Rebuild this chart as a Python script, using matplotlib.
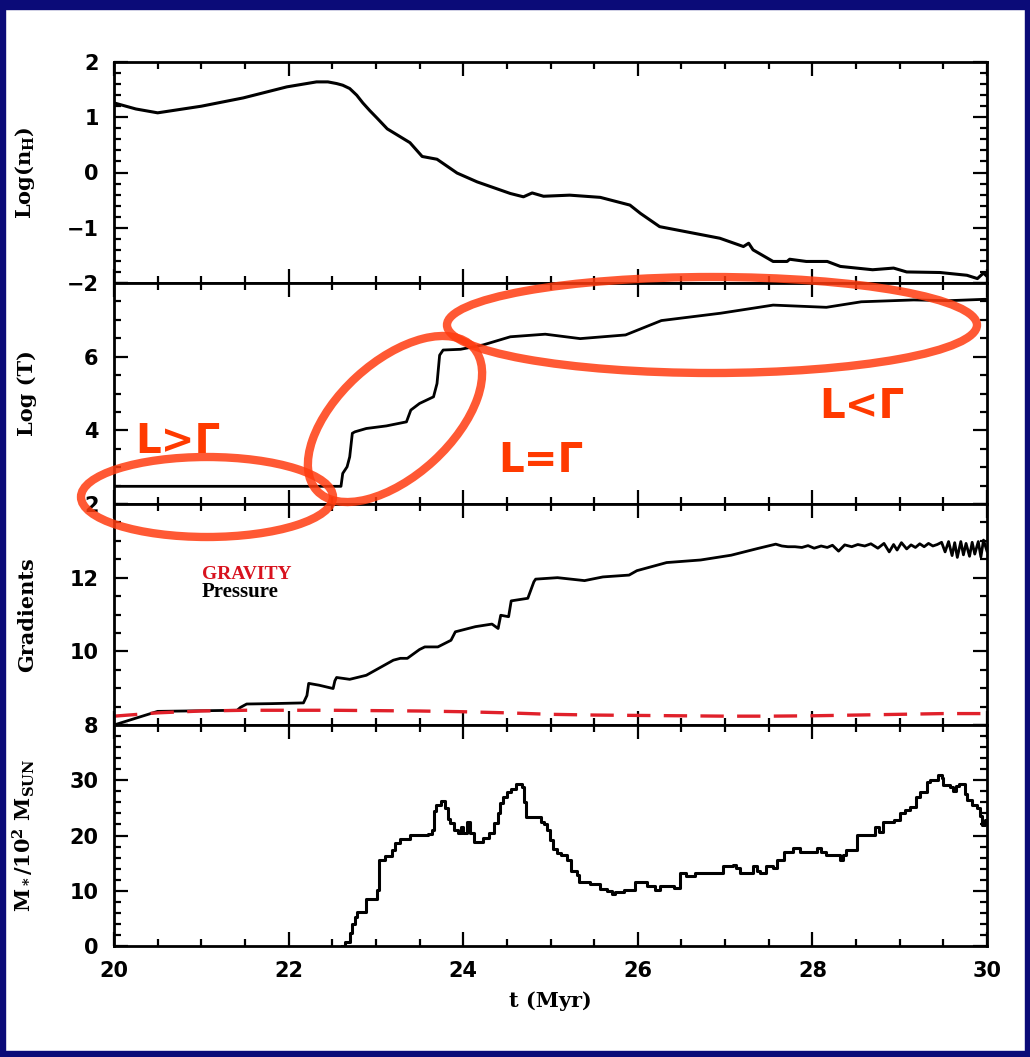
import matplotlib
matplotlib.use("Agg")
import matplotlib.pyplot as plt
from matplotlib.patches import Ellipse, Rectangle
from matplotlib.ticker import MultipleLocator

plt.rcParams['font.family'] = ['DejaVu Sans']
plt.rcParams['mathtext.fontset'] = 'dejavuserif'
plt.rcParams['mathtext.default'] = 'bf'

# --- data ---
t_nh = [20.0, 20.25, 20.5, 21.0, 21.48, 21.98, 22.32, 22.45, 22.55, 22.62, 22.70, 22.78,
        22.85, 22.93, 23.01, 23.13, 23.39, 23.53, 23.70, 23.93, 24.16, 24.54, 24.69,
        24.79, 24.92, 25.22, 25.57, 25.91, 26.03, 26.25, 26.48, 26.94, 27.21, 27.27,
        27.32, 27.55, 27.71, 27.74, 27.93, 28.17, 28.32, 28.69, 28.93, 29.08, 29.46,
        29.77, 29.89, 29.96, 30.0]
log_nh = [1.26, 1.15, 1.08, 1.20, 1.35, 1.55, 1.64, 1.64, 1.61, 1.58, 1.52, 1.40,
          1.26, 1.12, 0.99, 0.79, 0.54, 0.29, 0.24, -0.01, -0.17, -0.38, -0.44,
          -0.37, -0.43, -0.41, -0.45, -0.59, -0.74, -0.98, -1.05, -1.19, -1.34, -1.28,
          -1.40, -1.61, -1.61, -1.57, -1.61, -1.61, -1.70, -1.76, -1.73, -1.80, -1.81,
          -1.86, -1.92, -1.82, -1.88]

t_T = [20.0, 22.60, 22.62, 22.67, 22.70, 22.73, 22.76, 22.89, 23.12, 23.35, 23.40, 23.50,
       23.66, 23.70, 23.73, 23.77, 23.97, 24.23, 24.54, 24.94, 25.34, 25.86, 26.27,
       26.95, 27.55, 28.16, 28.56, 29.16, 29.56, 30.0]
log_T = [2.48, 2.48, 2.83, 3.01, 3.28, 3.92, 3.96, 4.05, 4.12, 4.23, 4.55, 4.73,
         4.91, 5.27, 6.04, 6.18, 6.20, 6.32, 6.54, 6.61, 6.49, 6.59, 6.98,
         7.18, 7.40, 7.34, 7.49, 7.54, 7.52, 7.56]

t_press = [20.0, 20.5, 21.41, 21.45, 21.52, 21.8, 22.17, 22.21, 22.23, 22.35, 22.51, 22.53,
           22.55, 22.70, 22.89, 23.20, 23.28, 23.36, 23.50, 23.56, 23.71, 23.86, 23.91,
           24.14, 24.33, 24.40, 24.43, 24.52, 24.55, 24.74, 24.81, 24.83, 25.08, 25.39,
           25.60, 25.90, 25.99, 26.33, 26.72, 27.07, 27.37,
           27.58, 27.65, 27.72, 27.80, 27.88, 27.95, 28.02, 28.10, 28.17, 28.23, 28.30,
           28.37, 28.45, 28.52, 28.60, 28.67, 28.75, 28.82, 28.88, 28.93, 28.97, 29.02,
           29.08, 29.13, 29.18, 29.23, 29.28, 29.33, 29.38, 29.43, 29.48, 29.52, 29.56,
           29.60, 29.63, 29.66, 29.70, 29.73, 29.76, 29.80, 29.83, 29.86, 29.90, 29.93,
           29.96, 30.0]
pressure = [8.0, 8.37, 8.40, 8.48, 8.57, 8.58, 8.60, 8.80, 9.13, 9.08, 8.99, 9.20,
            9.29, 9.24, 9.35, 9.76, 9.81, 9.81, 10.05, 10.12, 10.12, 10.30, 10.53,
            10.67, 10.74, 10.62, 10.98, 10.94, 11.37, 11.44, 11.89, 11.96, 12.00, 11.92,
            12.02, 12.07, 12.19, 12.41, 12.48, 12.61, 12.79,
            12.91, 12.86, 12.84, 12.84, 12.82, 12.87, 12.80, 12.86, 12.82, 12.88, 12.72,
            12.89, 12.84, 12.90, 12.86, 12.92, 12.80, 12.93, 12.70, 12.90, 12.75, 12.95,
            12.78, 12.89, 12.82, 12.92, 12.84, 12.93, 12.86, 12.90, 12.96, 12.70, 12.98,
            12.60, 12.95, 12.55, 12.98, 12.62, 12.93, 12.58, 12.96, 12.64, 12.98, 12.56,
            13.02, 12.72]

t_grav = [20.0, 20.5, 21.0, 21.5, 22.0, 22.5, 23.0, 23.5, 24.0, 24.5, 25.0, 25.5,
          26.0, 26.5, 27.0, 27.5, 28.0, 28.5, 29.0, 29.5, 30.0]
gravity = [8.24, 8.33, 8.38, 8.40, 8.40, 8.40, 8.39, 8.38, 8.36, 8.33, 8.29, 8.27,
           8.26, 8.25, 8.24, 8.24, 8.25, 8.27, 8.29, 8.31, 8.31]

t_mass = [22.61, 22.65, 22.70, 22.73, 22.76, 22.78, 22.86, 22.89, 22.97, 23.01, 23.04,
          23.10, 23.18, 23.22, 23.28, 23.39, 23.60, 23.64, 23.67, 23.69, 23.75, 23.79,
          23.83, 23.85, 23.90, 23.94, 23.97, 24.00, 24.04, 24.08, 24.12, 24.23, 24.30,
          24.35, 24.40, 24.42, 24.46, 24.50, 24.55, 24.61, 24.67, 24.70, 24.72, 24.86,
          24.89, 24.92, 24.96, 24.99, 25.03, 25.07, 25.12, 25.19, 25.24, 25.30, 25.33,
          25.45, 25.57, 25.65, 25.70, 25.74, 25.84, 25.95, 25.97, 26.06, 26.10, 26.14,
          26.20, 26.25, 26.41, 26.48, 26.55, 26.60, 26.65, 26.71, 26.85, 26.98, 27.09,
          27.13, 27.17, 27.30, 27.32, 27.36, 27.40, 27.47, 27.55, 27.59, 27.67, 27.78,
          27.86, 28.02, 28.05, 28.10, 28.16, 28.30, 28.32, 28.35, 28.39, 28.47, 28.51,
          28.66, 28.72, 28.76, 28.81, 28.88, 28.93, 29.00, 29.06, 29.12, 29.19, 29.23,
          29.31, 29.35, 29.39, 29.44, 29.48, 29.50, 29.58, 29.61, 29.64, 29.68, 29.71,
          29.75, 29.77, 29.83, 29.88, 29.92, 29.94, 29.98, 30.0]
mass = [0.0, 0.8, 2.3, 4.0, 5.3, 6.2, 6.2, 8.5, 8.5, 10.1, 15.6,
        16.2, 17.4, 18.7, 19.4, 20.1, 20.3, 21.0, 24.5, 25.5, 26.3, 25.0,
        23.0, 22.2, 21.0, 20.4, 21.5, 20.4, 22.5, 20.5, 18.9, 19.5, 20.5,
        22.2, 24.0, 25.8, 27.0, 27.9, 28.5, 29.4, 28.8, 26.0, 23.4, 23.4,
        22.5, 22.0, 21.0, 19.2, 17.5, 16.8, 16.5, 15.6, 13.5, 12.8, 11.6,
        11.3, 10.4, 10.0, 9.4, 9.8, 10.1, 10.1, 11.5, 11.5, 10.8, 10.8,
        10.2, 10.8, 10.5, 13.2, 12.6, 12.6, 13.2, 13.2, 13.2, 14.4, 14.7,
        14.2, 13.2, 13.2, 14.4, 13.5, 13.2, 14.4, 14.1, 15.6, 17.1, 17.7,
        17.1, 17.1, 17.7, 17.1, 16.5, 16.5, 15.6, 16.5, 17.4, 17.4, 20.1,
        20.1, 21.6, 20.6, 22.5, 22.5, 22.8, 24.0, 24.6, 25.2, 27.0, 27.9,
        29.6, 30.0, 30.0, 31.0, 30.4, 29.1, 28.8, 28.0, 29.0, 29.4, 29.4,
        27.5, 26.4, 25.5, 24.9, 23.5, 21.9, 22.8, 22.8]

x_ticks = [20, 22, 24, 26, 28, 30]

W, H = 1030, 1057
fig = plt.figure(figsize=(W / 100, H / 100), dpi=100)
fig.patch.set_facecolor('white')

# navy frame around the slide
navy = '#0B0B78'
for (x0, y0, w, h) in [(0, 0, 5, H), (W - 5, 0, 5, H), (0, 0, W, 6), (0, H - 9, W, 9)]:
    fig.patches.append(Rectangle((x0 / W, y0 / H), w / W, h / H, transform=fig.transFigure,
                                 color=navy, zorder=0))

left, right = 114 / W, 987 / W
ph = 221 / H
bottoms = [(H - 283) / H, (H - 504) / H, (H - 725) / H, (H - 946) / H]

tick_font = dict(family='DejaVu Sans', weight='bold', size=15)
label_font = dict(family='DejaVu Serif', weight='bold', size=15)

axes = []
for b in bottoms:
    ax = fig.add_axes([left, b, right - left, ph])
    ax.set_xlim(20, 30)
    ax.xaxis.set_major_locator(MultipleLocator(2))
    ax.xaxis.set_minor_locator(MultipleLocator(0.5))
    ax.tick_params(which='both', direction='in', top=True, right=True, width=1.6)
    ax.tick_params(which='major', length=10, pad=11)
    ax.tick_params(which='minor', length=5)
    for s in ax.spines.values():
        s.set_linewidth(2.0)
    ax.tick_params(labelbottom=False)
    axes.append(ax)

a1, a2, a3, a4 = axes

# panel 1: density
a1.plot(t_nh, log_nh, color='black', lw=2.2)
a1.set_ylim(-2, 2)
a1.yaxis.set_minor_locator(MultipleLocator(0.2))
a1.set_yticks([-2, -1, 0, 1, 2])
a1.set_yticklabels(['\u22122', '\u22121', '0', '1', '2'], **tick_font)
a1.set_ylabel('Log(n$_{\\mathbf{H}}$)', **label_font)

# panel 2: temperature
a2.plot(t_T, log_T, color='black', lw=2.0)
a2.set_ylim(2, 8)
a2.yaxis.set_minor_locator(MultipleLocator(0.5))
a2.set_yticks([2, 4, 6, 8])
a2.set_yticklabels(['2', '4', '6', ''], **tick_font)
a2.set_ylabel('Log (T)', **label_font)

# panel 3: gradients
a3.plot(t_press, pressure, color='black', lw=2.0)
a3.plot(t_grav, gravity, color='#E0202A', lw=2.4, dashes=(7, 4))
a3.set_ylim(8, 14)
a3.yaxis.set_minor_locator(MultipleLocator(0.5))
a3.set_yticks([8, 10, 12, 14])
a3.set_yticklabels(['8', '10', '12', ''], **tick_font)
a3.set_ylabel('Gradients', **label_font)

# panel 4: mass
a4.plot(t_mass, mass, color='black', lw=2.2, drawstyle='steps-post')
a4.set_ylim(0, 40)
a4.yaxis.set_minor_locator(MultipleLocator(2))
a4.set_yticks([0, 10, 20, 30, 40])
a4.set_yticklabels(['0', '10', '20', '30', ''], **tick_font)
a4.set_ylabel('M$_*$/10$^2$ M$_{\\mathbf{SUN}}$', **label_font)
a4.tick_params(labelbottom=True)
a4.set_xticks(x_ticks)
a4.set_xticklabels([str(v) for v in x_ticks], **tick_font)
a4.set_xlabel('t (Myr)', family='DejaVu Serif', weight='bold', size=15, labelpad=7)

for ax in axes:
    ax.yaxis.set_label_coords(-0.088, 0.5)

# overlay for the hand-drawn annotations (pixel coordinates)
ov = fig.add_axes([0, 0, 1, 1], facecolor='none', zorder=10)
ov.set_xlim(0, W)
ov.set_ylim(H, 0)
ov.axis('off')

ring = dict(fill=False, edgecolor='#FF3C10', lw=6.0, alpha=0.85)
ov.add_patch(Ellipse((207, 497), 252, 80, angle=0, **ring))
ov.add_patch(Ellipse((395, 419), 212, 114, angle=-42.5, **ring))
ov.add_patch(Ellipse((712, 325), 530, 96, angle=0, **ring))

note = dict(color='#FF3A00', weight='bold', size=29, family='DejaVu Sans', va='baseline')
ov.text(135, 453, 'L>\u0393', **note)
ov.text(498, 472, 'L=\u0393', **note)
ov.text(819, 418, 'L<\u0393', **note)

ov.text(202, 579, 'GRAVITY', color='#D8121E', weight='bold', size=14,
        family='Liberation Serif', va='baseline')
ov.text(202, 597, 'Pressure', color='black', weight='bold', size=15,
        family='Liberation Serif', va='baseline')

fig.savefig('out.png', dpi=100)
